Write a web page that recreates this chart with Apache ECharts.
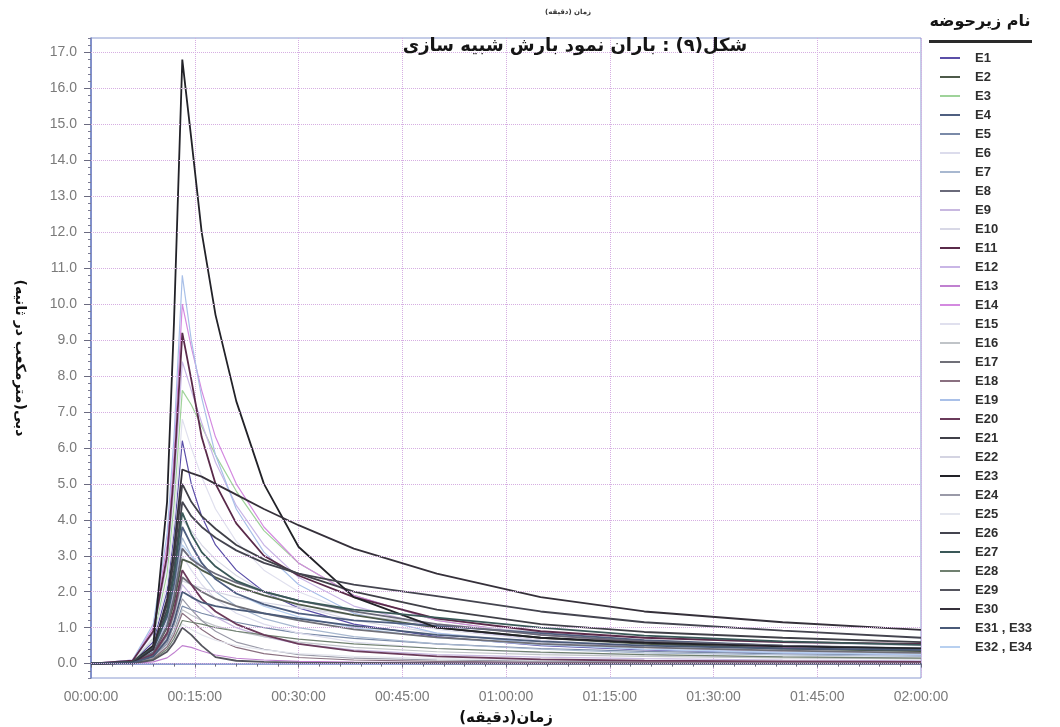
<!DOCTYPE html>
<html>
<head>
<meta charset="utf-8">
<script src="https://cdn.jsdelivr.net/npm/echarts@6/dist/echarts.min.js"></script>
<style>html,body{margin:0;padding:0;background:#fff}#chart{width:1060px;height:727px}</style>
</head>
<body>
<div id="chart"></div>
<script>
// time in minutes
const times = [0, 6, 9, 11, 12, 13.2, 14.5, 16, 18, 21, 25, 30, 38, 50, 65, 80, 100, 120];
const yTickValues = [0,1,2,3,4,5,6,7,8,9,10,11,12,13,14,15,16,17];
const xTickLabels = ['00:00:00','00:15:00','00:30:00','00:45:00','01:00:00','01:15:00','01:30:00','01:45:00','02:00:00'];
const names = ['E1','E2','E3','E4','E5','E6','E7','E8','E9','E10','E11','E12','E13','E14','E15','E16','E17','E18','E19','E20','E21','E22','E23','E24','E25','E26','E27','E28','E29','E30','E31 , E33','E32 , E34'];

const E1  = [0,0.05,0.6,2.0,3.6,6.2, 5.0,4.1,3.3,2.6,2.0,1.55,1.1,0.75,0.5,0.38,0.3,0.25];
const E2  = [0,0.03,0.3,1.0,1.7,2.9, 2.8,2.6,2.4,2.15,1.9,1.65,1.35,1.0,0.72,0.55,0.42,0.35];
const E3  = [0,0.05,0.7,2.5,4.4,7.6, 7.2,6.6,5.8,4.8,3.7,2.8,1.9,1.2,0.8,0.58,0.42,0.33];
const E4  = [0,0.04,0.4,1.3,2.2,3.8, 3.3,2.8,2.35,1.95,1.65,1.4,1.2,1.05,0.85,0.65,0.5,0.4];
const E5  = [0,0.02,0.2,0.55,0.9,1.6, 1.5,1.4,1.3,1.15,1.0,0.85,0.7,0.55,0.42,0.34,0.27,0.24];
const E6  = [0,0.03,0.3,1.0,1.75,3.0, 2.6,2.2,1.8,1.4,1.1,0.85,0.6,0.42,0.3,0.24,0.19,0.16];
const E7  = [0,0.03,0.35,1.15,2.0,3.5, 3.0,2.5,2.0,1.6,1.25,1.0,0.75,0.55,0.4,0.3,0.24,0.2];
const E8  = [0,0.03,0.3,1.05,1.85,3.2, 2.9,2.7,2.5,2.25,2.0,1.75,1.45,1.1,0.8,0.62,0.5,0.42];
const E9  = [0,0.02,0.22,0.72,1.3,2.2, 1.9,1.6,1.3,1.0,0.75,0.55,0.38,0.25,0.18,0.14,0.1,0.08];
const E10 = [0,0.04,0.4,1.3,2.3,4.0, 3.7,3.3,2.9,2.45,2.0,1.6,1.2,0.85,0.6,0.45,0.35,0.28];
const E11 = [0,0.08,0.9,3.0,5.3,9.2, 7.9,6.3,5.0,3.9,3.0,2.45,1.85,1.25,0.9,0.72,0.6,0.55];
const E12 = [0,0.08,0.85,2.8,4.9,8.4, 7.6,6.7,5.6,4.4,3.3,2.4,1.6,1.0,0.65,0.45,0.32,0.25];
const E13 = [0,0.01,0.05,0.16,0.3,0.5, 0.45,0.35,0.24,0.15,0.1,0.06,0.04,0.03,0.02,0.02,0.01,0.01];
const E14 = [0,0.1,1.0,3.3,5.8,10.0, 8.8,7.6,6.3,5.0,3.8,2.8,1.9,1.2,0.8,0.6,0.45,0.35];
const E15 = [0,0.07,0.7,2.2,3.9,6.8, 6.0,5.2,4.3,3.4,2.6,2.0,1.4,0.95,0.65,0.5,0.38,0.3];
const E16 = [0,0.02,0.15,0.5,0.87,1.5, 1.35,1.2,1.05,0.9,0.75,0.6,0.45,0.33,0.25,0.2,0.16,0.13];
const E17 = [0,0.02,0.24,0.8,1.4,2.4, 2.2,2.0,1.8,1.6,1.4,1.2,0.95,0.73,0.55,0.45,0.36,0.3];
const E18 = [0,0.01,0.14,0.46,0.8,1.4, 1.2,0.95,0.7,0.45,0.28,0.17,0.1,0.06,0.04,0.03,0.02,0.02];
const E19 = [0,0.1,1.1,3.6,6.3,10.8, 9.0,7.4,5.8,4.3,3.1,2.2,1.4,0.85,0.55,0.4,0.3,0.25];
const E20 = [0,0.03,0.26,0.86,1.5,2.6, 2.2,1.8,1.45,1.1,0.8,0.55,0.35,0.2,0.12,0.08,0.06,0.05];
const E21 = [0,0.05,0.5,1.65,2.9,5.0, 4.5,4.1,3.75,3.3,2.9,2.5,2.0,1.5,1.1,0.88,0.72,0.6];
const E22 = [0,0.02,0.23,0.76,1.33,2.3, 2.2,2.1,2.0,1.85,1.7,1.55,1.35,1.1,0.88,0.72,0.58,0.5];
const E23 = [0,0.02,0.5,4.5,9.5,16.8, 14.6,12.0,9.7,7.3,5.0,3.25,1.85,1.0,0.72,0.58,0.48,0.42];
const E24 = [0,0.02,0.18,0.6,1.05,1.8, 1.5,1.2,0.9,0.6,0.4,0.25,0.15,0.1,0.07,0.05,0.04,0.03];
const E25 = [0,0.01,0.11,0.36,0.64,1.1, 0.95,0.8,0.65,0.5,0.38,0.28,0.2,0.14,0.1,0.08,0.06,0.05];
const E26 = [0,0.04,0.45,1.5,2.6,4.5, 4.1,3.8,3.5,3.15,2.8,2.5,2.2,1.88,1.45,1.15,0.92,0.72];
const E27 = [0,0.04,0.42,1.4,2.45,4.2, 3.6,3.1,2.7,2.3,2.0,1.75,1.5,1.28,1.0,0.78,0.62,0.52];
const E28 = [0,0.01,0.12,0.4,0.7,1.2, 1.15,1.1,1.0,0.9,0.8,0.68,0.55,0.42,0.32,0.25,0.19,0.15];
const E29 = [0,0.01,0.1,0.33,0.58,1.0, 0.8,0.5,0.18,0.08,0.05,0.03,0.02,0.01,0,0,0,0];
const E30 = [0,0.02,0.4,1.8,3.2,5.4, 5.3,5.2,5.0,4.7,4.3,3.85,3.2,2.5,1.85,1.45,1.15,0.94];
const E31_33 = [0,0.02,0.2,0.66,1.16,2.0, 1.85,1.7,1.6,1.5,1.4,1.25,1.05,0.8,0.62,0.5,0.42,0.38];
const E32_34 = [0,0.03,0.33,1.1,1.9,3.3, 3.0,2.7,2.35,1.95,1.6,1.3,1.0,0.72,0.52,0.4,0.31,0.26];

const seriesValues = [E1,E2,E3,E4,E5,E6,E7,E8,E9,E10,E11,E12,E13,E14,E15,E16,E17,E18,E19,E20,E21,E22,E23,E24,E25,E26,E27,E28,E29,E30,E31_33,E32_34];

// styles
const colors = ['#5b4fa8','#4d5a4a','#9fd39a','#4f5f80','#7a8aa8','#dcdcec','#a8b8d0','#6a6a7a','#c8b8e0','#d8d8e6',
  '#5a2a4a','#c9b6e6','#c080d0','#d48ae0','#e0e0ee','#c0c4c8','#707078','#8a7080','#a9c0e8','#6a3a5a',
  '#404048','#d4d4e2','#222228','#9a9aa8','#e4e6ee','#44444f','#3a5858','#708070','#55555e','#35303a','#4a5a78','#b8d0f0'];
const darkSet = new Set([1,3,7,10,16,19,20,22,25,26,28,29,30]);

const chart = echarts.init(document.getElementById('chart'), null, {renderer:'canvas'});
const gridColor = '#d6aee2';
const series = names.map((n, i) => ({
  name: n,
  type: 'line',
  data: times.map((t, j) => [t, seriesValues[i][j]]),
  symbol: 'none',
  showSymbol: false,
  smooth: false,
  lineStyle: { color: colors[i], width: darkSet.has(i) ? 1.8 : 1.2 },
  itemStyle: { color: colors[i] },
  z: darkSet.has(i) ? 4 : 3,
  animation: false
}));
series.push({
  name: 'grid',
  type: 'line',
  data: [],
  z: 1,
  silent: true,
  markLine: {
    silent: true,
    symbol: ['none','none'],
    label: { show: false },
    animation: false,
    lineStyle: { type: 'dotted', color: gridColor, width: 1 },
    data: yTickValues.map(v => ({ yAxis: v }))
  }
});

const option = {
  animation: false,
  backgroundColor: '#ffffff',
  grid: { left: 91, right: 139, top: 38, bottom: 49, show: true, borderColor: '#8a9ad0', borderWidth: 1, outerBoundsMode: 'none' },
  legend: {
    data: names,
    orient: 'vertical',
    left: 935,
    top: 46,
    icon: 'rect',
    itemWidth: 20,
    itemHeight: 2,
    itemGap: 5,
    selectedMode: false,
    textStyle: { fontFamily: 'Liberation Sans', fontSize: 13, fontWeight: 'bold', color: '#2e2e2e', padding: [0,0,0,10], lineHeight: 14 }
  },
  xAxis: {
    type: 'value', min: 0, max: 120, interval: 15,
    axisLine: { show: true, lineStyle: { color: '#6a7fc0', width: 1.5 } },
    axisTick: { show: true, length: 4, lineStyle: { color: '#6a6a80' } },
    minorTick: { show: true, splitNumber: 5, length: 3, lineStyle: { color: '#6a6a80' } },
    axisLabel: { formatter: v => xTickLabels[Math.round(v / 15)], color: '#7a7a7a', fontSize: 14, fontFamily: 'Liberation Sans', margin: 12 },
    splitLine: { show: true, lineStyle: { type: 'dotted', color: gridColor } },
    name: 'زمان(دقیقه)\u200F', nameLocation: 'middle', nameGap: 33,
    nameTextStyle: { fontFamily: 'DejaVu Sans', fontWeight: 'bold', fontSize: 15, color: '#111' }
  },
  yAxis: [{
    type: 'value', min: -0.4, max: 17.4, interval: 0.2,
    axisLine: { show: true, lineStyle: { color: '#6a7fc0', width: 1.5 } },
    axisTick: { show: true, length: 3, lineStyle: { color: '#7a7a90' } },
    axisLabel: {
      formatter: v => { const r = Math.round(v * 10) / 10; const k = Math.round(r); return (Math.abs(r - k) < 1e-6 && yTickValues.includes(k)) ? k.toFixed(1) : ''; },
      color: '#7a7a7a', fontSize: 14, fontFamily: 'Liberation Sans', margin: 14
    },
    splitLine: { show: false },
    name: 'دبی(مترمکعب در ثانیه)\u200F', nameLocation: 'middle', nameRotate: -90, nameGap: 64,
    nameTextStyle: { fontFamily: 'DejaVu Sans', fontWeight: 'bold', fontSize: 14, color: '#111' }
  }, {
    type: 'value', min: -0.4, max: 17.4, position: 'left',
    axisLine: { show: false },
    axisTick: { show: true, length: 7, customValues: yTickValues, lineStyle: { color: '#6a6a80' } },
    axisLabel: { show: false },
    splitLine: { show: false }
  }],
  graphic: [
    { type: 'text', z: 10, style: { text: 'زمان (دقیقه)', x: 568, y: 12, align: 'center', verticalAlign: 'middle', fontFamily: 'DejaVu Sans', fontSize: 7, fontWeight: 'bold', fill: '#333' } },
    { type: 'text', z: 10, style: { text: 'شکل(۹) : باران نمود بارش شبیه سازی', x: 575, y: 46, align: 'center', verticalAlign: 'middle', fontFamily: 'DejaVu Sans', fontSize: 18, fontWeight: 'bold', fill: '#151515' } },
    { type: 'text', z: 10, style: { text: 'نام زیرحوضه', x: 980, y: 22, align: 'center', verticalAlign: 'middle', fontFamily: 'DejaVu Sans', fontSize: 16, fontWeight: 'bold', fill: '#151515' } },
    { type: 'rect', z: 10, shape: { x: 929, y: 40, width: 103, height: 3 }, style: { fill: '#2a2a2a' } }
  ],
  series: series
};
chart.setOption(option);
</script>
</body>
</html>
